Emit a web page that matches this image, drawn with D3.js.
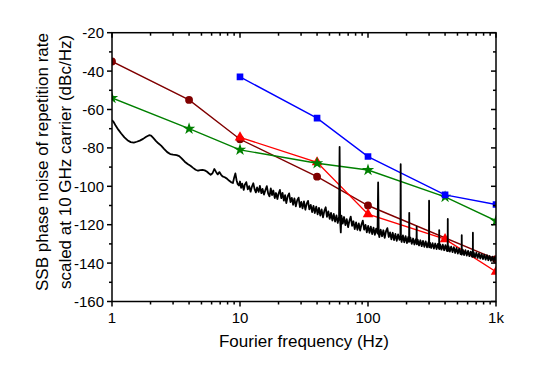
<!DOCTYPE html>
<html>
<head>
<meta charset="utf-8">
<script src="https://cdn.jsdelivr.net/npm/d3@7"></script>
<style>
  body { margin: 0; background: #fff; }
  text { font-family: "Liberation Sans", Arial, sans-serif; fill: #000; }
</style>
</head>
<body>
<svg id="chart" width="537" height="371"></svg>
<script>
// Oscillator series (Fourier frequency in Hz, dBc/Hz)
var darkRedFreq = [1, 4, 10, 40, 100, 1000];
var darkRedDb = [-35, -55, -75.5, -95, -110, -138];

var redFreq = [10, 40, 100, 400, 1000];
var redDb = [-74.5, -87.5, -114.5, -127.5, -144.5];

var greenFreq = [1, 4, 10, 40, 100, 400, 1000];
var greenDb = [-54, -70, -81, -88, -91.5, -105.5, -118];

var blueFreq = [10, 40, 100, 400, 1000];
var blueDb = [-43, -64.5, -84.5, -104.5, -109.5];

var noise = [
  [1.0,-65.5],[1.03,-66.5],[1.07,-68.5],[1.12,-70.5],[1.18,-72.5],[1.25,-74.5],[1.32,-76],
  [1.4,-77],[1.48,-77.3],[1.56,-76.8],[1.65,-76.2],[1.75,-75.3],[1.85,-74.2],[1.95,-73.4],
  [2.02,-73.6],[2.1,-74.8],[2.2,-76.3],[2.3,-77.6],[2.42,-78.8],[2.55,-80.5],[2.7,-82.2],
  [2.85,-83.2],[3.0,-83.5],[3.2,-83.8],[3.35,-84.3],[3.5,-85.5],[3.7,-87.2],[3.9,-88.4],
  [4.1,-89.3],[4.3,-90.4],[4.5,-91.4],[4.7,-91.9],[4.9,-91.6],[5.1,-91.4],[5.3,-91.7],
  [5.5,-92.3],[5.7,-93.2],[5.9,-94.0],[6.1,-93.2],[6.3,-91.0],[6.5,-92.5],[6.7,-93.8],
  [6.9,-92.6],[7.1,-93.9],[7.3,-94.8],[7.6,-95.3],[7.9,-96.0],[8.2,-97.0],[8.5,-97.8],
  [8.8,-98.3],[9.0,-95.5],[9.2,-93.3],[9.4,-96.8],[9.6,-98.9],[9.8,-99.6],
  [10.0,-97.5],[10.2,-100.8],[10.4,-98.6],[10.7,-101.9],[10.9,-99.2],[11.2,-97.8],[11.5,-101.6],
  [11.8,-99.9],[12.1,-102.8],[12.4,-100.1],[12.7,-98.4],[13.0,-101.5],[13.3,-103.2],[13.6,-100.6],
  [14.0,-102.9],[14.3,-99.8],[14.7,-103.6],[15.0,-101.4],[15.4,-104.3],[15.8,-101.9],[16.2,-99.9],
  [16.6,-103.8],[17.0,-105.2],[17.4,-101.1],[17.8,-104.6],[18.2,-102.2],[18.7,-106.1],[19.1,-103.5],
  [19.6,-106.6],[20.0,-103.9],[20.5,-101.9],[21.0,-106.2],[21.5,-103.4],[22.0,-107.5],[22.5,-104.6],
  [23.0,-108.8],[23.6,-105.1],[24.2,-103.7],[24.8,-108.2],[25.4,-106.0],[26.0,-109.6],[26.6,-106.3],
  [27.3,-110.4],[28.0,-107.2],[28.7,-105.9],[29.4,-110.8],[30.1,-108.1],[30.8,-111.5],[31.6,-107.9],
  [32.4,-112.2],[33.2,-109.0],[34.0,-107.6],[34.8,-112.0],[35.7,-109.7],[36.6,-113.4],[37.5,-110.2],
  [38.4,-113.9],[39.4,-110.6],[40.4,-114.6],[41.4,-111.2],[42.4,-115.3],[43.4,-112.0],[44.5,-116.2],
  [45.6,-112.8],[46.7,-110.9],[47.8,-115.9],[49.0,-113.1],[50.2,-117.0],[51.4,-113.9],[52.7,-117.8],
  [54.0,-114.4],[55.3,-118.4],[56.7,-115.2],[58.0,-119.1],[59.4,-116.0],[60.0,-79.5],[60.6,-118.0],
  [61.3,-124.0],[62.0,-115.3],[63.5,-119.4],[65.0,-116.0],[66.6,-120.2],[68.2,-117.1],[69.9,-121.3],
  [71.6,-117.9],[73.3,-115.8],[75.1,-120.6],[76.9,-118.2],[78.8,-122.3],[80.7,-118.8],[82.7,-122.7],
  [84.7,-119.3],[86.8,-123.1],[88.9,-119.9],[91.1,-117.9],[93.3,-122.6],[95.6,-120.1],[97.9,-124.0],
  [100.3,-120.6],[102.7,-124.2],[105.2,-121.0],[107.8,-124.9],[110.4,-121.5],[113.1,-125.3],
  [115.9,-122.0],[118.7,-124.6],[120,-98.0],[121.3,-124.8],[122.6,-126.5],[125.6,-122.6],
  [128.7,-126.0],[131.8,-122.9],[135.0,-126.8],[138.3,-123.4],[141.7,-121.8],[145.2,-126.4],
  [148.7,-124.0],[152.3,-127.6],[156.0,-124.2],[159.8,-128.0],[163.7,-124.8],[167.7,-128.4],
  [171.8,-125.1],[176.0,-127.9],[179.2,-125.4],[180,-88.5],[180.8,-126.5],[183,-129.0],
  [187.5,-125.6],[192.0,-129.2],[196.7,-126.0],[201.5,-129.6],[206.4,-126.4],[209.2,-129.0],
  [210,-113.8],[210.8,-128.8],[214.5,-126.7],[219.7,-130.0],[225.0,-127.2],[230.5,-130.3],
  [236.1,-127.5],[239.2,-129.6],[240,-121.0],[240.8,-130.2],[244.5,-127.8],[250.4,-130.8],
  [256.5,-128.1],[262.7,-131.2],[269.1,-128.4],[275.6,-131.5],[282.3,-128.7],[289.2,-131.8],
  [296.2,-129.1],[299.2,-130.8],[300,-107.5],[300.8,-131.8],[304.5,-129.3],[311.9,-132.1],
  [319.5,-129.6],[327.3,-132.4],[335.2,-129.8],[343.4,-132.7],[351.7,-130.0],[359.2,-132.5],
  [360,-122.8],[360.8,-132.7],[366,-130.2],[375,-133.0],[384,-130.4],[393.5,-133.3],[403,-130.6],
  [412.8,-133.6],[419.2,-131.0],[420,-117.0],[420.8,-133.8],[426,-131.2],[436,-134.0],
  [446.5,-131.4],[457.3,-134.3],[468.4,-131.7],[479.8,-134.7],[491.5,-132.1],[503.4,-135.0],
  [515.6,-132.5],[528.1,-135.3],[539.2,-133.0],[540,-125.5],[540.8,-135.6],[550,-133.0],
  [563.3,-135.8],[577,-133.3],[591,-136.1],[605.4,-133.6],[620.1,-136.4],[635.2,-134.0],
  [650.6,-136.7],[659.2,-134.5],[660,-124.2],[660.8,-136.8],[669,-134.3],[685,-137.0],
  [702,-134.6],[719,-137.3],[736,-135.0],[754,-137.6],[772,-135.3],[791,-137.9],[810,-135.6],
  [830,-138.2],[850,-135.9],[871,-138.5],[892,-136.3],[913,-138.8],[936,-136.6],[958,-139.1],
  [981,-136.9],[1000,-138.6]
];

var xTicks = [1, 10, 100, 1000];
var xTickLabels = ['1', '10', '100', '1k'];
var yTicks = [-160, -140, -120, -100, -80, -60, -40, -20];

// plot box in pixels (window.top is reserved, so no "top" here)
var pL = 112, pR = 496, pT = 32.7, pB = 301.5;

var x = d3.scaleLog().domain([1, 1000]).range([pL, pR]);
var y = d3.scaleLinear().domain([-160, -20]).range([pB, pT]);

var svg = d3.select('#chart');

svg.append('defs').append('clipPath')
  .attr('id', 'plotClip')
  .append('rect')
  .attr('x', pL)
  .attr('y', pT)
  .attr('width', pR - pL)
  .attr('height', pB - pT);

var plot = svg.append('g').attr('clip-path', 'url(#plotClip)');

var zip = (fs, vs) => fs.map((f, i) => [f, vs[i]]);

var series = [
  {pts: zip(darkRedFreq, darkRedDb), color: '#800000', sym: d3.symbolCircle, size: 48},
  {pts: zip(redFreq, redDb), color: '#ff0000', sym: d3.symbolTriangle, size: 48},
  {pts: zip(greenFreq, greenDb), color: '#008000', sym: d3.symbolStar, size: 48},
  {pts: zip(blueFreq, blueDb), color: '#0000ff', sym: d3.symbolSquare, size: 44}
];

var line = d3.line().x((d) => x(d[0])).y((d) => y(d[1]));

series.forEach((s) => {
  plot.append('path')
    .attr('d', line(s.pts))
    .style('fill', 'none')
    .style('stroke', s.color)
    .style('stroke-width', 1.4);

  plot.selectAll(null)
    .data(s.pts)
    .enter()
    .append('path')
    .attr('transform', (d) => 'translate(' + x(d[0]) + ',' + y(d[1]) + ')')
    .attr('d', d3.symbol().type(s.sym).size(s.size))
    .style('fill', s.color)
    .style('stroke', 'none');
});

// Black measured trace on top
plot.append('path')
  .attr('d', line(noise))
  .style('fill', 'none')
  .style('stroke', '#000')
  .style('stroke-width', 1.8)
  .style('stroke-linejoin', 'round');

// Frame
svg.append('rect')
  .attr('x', pL)
  .attr('y', pT)
  .attr('width', pR - pL)
  .attr('height', pB - pT)
  .style('fill', 'none')
  .style('stroke', '#000')
  .style('stroke-width', 1.5);

// Minor tick values
var xMinor = [];
[1, 10, 100].forEach((dec) => {
  for (var k = 2; k <= 9; k++) xMinor.push(dec * k);
});
var yMinor = [];
for (var v = -150; v <= -30; v += 20) yMinor.push(v);

var tickLine = (g, x1, y1, x2, y2) => g.append('line')
  .attr('x1', x1).attr('y1', y1).attr('x2', x2).attr('y2', y2)
  .style('stroke', '#000').style('stroke-width', 1.5);

var ticks = svg.append('g');
xTicks.forEach((t) => {
  tickLine(ticks, x(t), pB, x(t), pB + 5);
  tickLine(ticks, x(t), pT, x(t), pT + 5);
});
xMinor.forEach((t) => {
  tickLine(ticks, x(t), pB, x(t), pB + 3);
  tickLine(ticks, x(t), pT, x(t), pT + 3);
});
yTicks.forEach((t) => {
  tickLine(ticks, pL - 5, y(t), pL, y(t));
  tickLine(ticks, pR - 5, y(t), pR, y(t));
});
yMinor.forEach((t) => {
  tickLine(ticks, pL - 3, y(t), pL, y(t));
  tickLine(ticks, pR - 3, y(t), pR, y(t));
});

// Tick labels
svg.selectAll('.xLabel')
  .data(xTicks)
  .enter()
  .append('text')
  .attr('class', 'xLabel')
  .attr('x', (d) => x(d))
  .attr('y', 322.5)
  .attr('text-anchor', 'middle')
  .style('font-size', '15px')
  .text((d, i) => xTickLabels[i]);

svg.selectAll('.yLabel')
  .data(yTicks)
  .enter()
  .append('text')
  .attr('class', 'yLabel')
  .attr('x', 104)
  .attr('y', (d) => y(d))
  .attr('dy', '0.36em')
  .attr('text-anchor', 'end')
  .style('font-size', '15px')
  .text((d) => d);

// Axis titles
svg.append('text')
  .attr('x', (pL + pR) / 2)
  .attr('y', 347)
  .attr('text-anchor', 'middle')
  .style('font-size', '17px')
  .text('Fourier frequency (Hz)');

var yTitle = svg.append('g')
  .attr('transform', 'translate(0,162) rotate(-90)');
yTitle.append('text')
  .attr('x', 0)
  .attr('y', 47.5)
  .attr('text-anchor', 'middle')
  .style('font-size', '17px')
  .text('SSB phase noise of repetition rate');
yTitle.append('text')
  .attr('x', 0)
  .attr('y', 71)
  .attr('text-anchor', 'middle')
  .style('font-size', '17px')
  .text('scaled at 10 GHz carrier (dBc/Hz)');
</script>
</body>
</html>
